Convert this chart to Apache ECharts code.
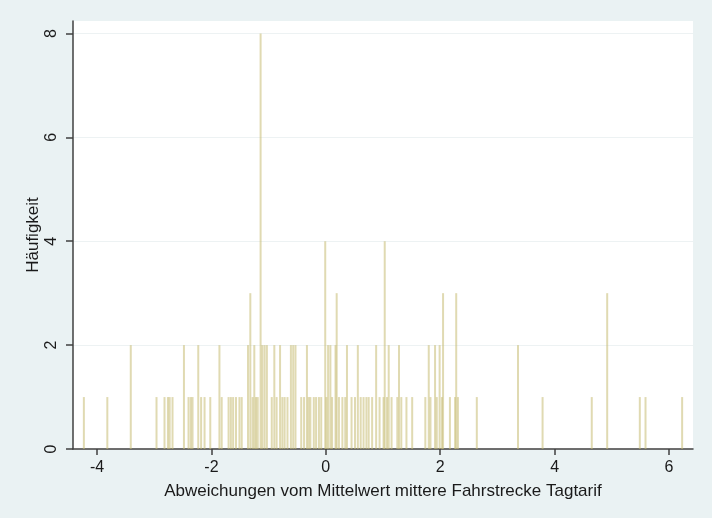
<!DOCTYPE html>
<html>
<head>
<meta charset="utf-8">
<script src="https://cdn.jsdelivr.net/npm/echarts@6/dist/echarts.min.js"></script>
<style>
  html, body { margin: 0; padding: 0; background: #eaf2f3; }
  #chart { width: 712px; height: 518px; }
</style>
</head>
<body>
<div id="chart"></div>
<script>
// Distinct deviations from the mean (x) and how often each occurs (y)
const deviations = [
  -4.23, -3.82, -3.41, -2.96, -2.82, -2.76, -2.73, -2.68,
  -2.48, -2.40, -2.36, -2.33, -2.23, -2.18, -2.12, -2.02,
  -1.86, -1.82, -1.70, -1.66, -1.62, -1.57, -1.51, -1.47,
  -1.36, -1.32, -1.28, -1.25, -1.22, -1.19, -1.14, -1.11, -1.07, -1.03,
  -0.945, -0.90, -0.86, -0.80, -0.76, -0.72, -0.67, -0.61, -0.57, -0.53,
  -0.43, -0.38, -0.33, -0.30, -0.27, -0.21, -0.17, -0.12, -0.08,
  -0.01, 0.01, 0.04, 0.08, 0.11, 0.17, 0.19, 0.23, 0.29, 0.34, 0.37, 0.45, 0.51, 0.56,
  0.61, 0.66, 0.71, 0.75, 0.81, 0.88, 0.94, 1.01, 1.03, 1.07, 1.10, 1.15, 1.25, 1.28, 1.32, 1.41, 1.51,
  1.74, 1.80, 1.83, 1.91, 1.94, 1.99, 2.03, 2.05, 2.17, 2.26, 2.28, 2.31, 2.64,
  3.36, 3.79, 4.65, 4.92, 5.49, 5.59, 6.23
];
const counts = [
  1, 1, 2, 1, 1, 1, 1, 1,
  2, 1, 1, 1, 2, 1, 1, 1,
  2, 1, 1, 1, 1, 1, 1, 1,
  2, 3, 1, 2, 1, 1, 8, 2, 2, 2,
  1, 2, 1, 2, 1, 1, 1, 2, 2, 2,
  1, 1, 2, 1, 1, 1, 1, 1, 1,
  4, 1, 2, 2, 1, 2, 3, 1, 1, 1, 2, 1, 1, 2,
  1, 1, 1, 1, 1, 2, 1, 1, 4, 1, 2, 1, 1, 2, 1, 1, 1,
  1, 2, 1, 2, 1, 2, 1, 3, 1, 1, 3, 1, 1,
  2, 1, 1, 3, 1, 1, 1
];
const xTicks = [-4, -2, 0, 2, 4, 6];
const yTicks = [0, 2, 4, 6, 8];

const spikeData = deviations.map((d, i) => [d, counts[i]]);

const font = '"Liberation Sans", Arial, sans-serif';
const chart = echarts.init(document.getElementById('chart'), null, { renderer: 'canvas' });

chart.setOption({
  backgroundColor: '#eaf2f3',
  animation: false,
  grid: { left: 73, right: 19, top: 21, bottom: 69, show: true, backgroundColor: '#ffffff', borderWidth: 0 },
  xAxis: {
    type: 'value',
    min: -4.42,
    max: 6.42,
    name: 'Abweichungen vom Mittelwert mittere Fahrstrecke Tagtarif',
    nameLocation: 'middle',
    nameGap: 34,
    nameTextStyle: { fontFamily: font, fontSize: 17, color: '#1a1a1a' },
    axisLine: { show: true, onZero: false, lineStyle: { color: '#404040', width: 1.5 } },
    axisTick: { show: true, length: 6, customValues: xTicks, lineStyle: { color: '#404040', width: 1.5 } },
    axisLabel: { customValues: xTicks, margin: 11, fontFamily: font, fontSize: 16, color: '#1a1a1a',
                 formatter: v => String(v) },
    splitLine: { show: false }
  },
  yAxis: {
    type: 'value',
    min: 0,
    max: 8.24,
    name: 'Häufigkeit',
    nameLocation: 'middle',
    nameGap: 31,
    nameRotate: 90,
    nameMoveOverlap: false,
    nameTextStyle: { fontFamily: font, fontSize: 17, color: '#1a1a1a' },
    axisLine: { show: true, onZero: false, lineStyle: { color: '#404040', width: 1.5 } },
    axisTick: { show: true, length: 7, customValues: yTicks, lineStyle: { color: '#404040', width: 1.5 } },
    axisLabel: { customValues: yTicks, rotate: 90, margin: 13, fontFamily: font, fontSize: 16, color: '#1a1a1a' },
    splitLine: { show: true, customValues: yTicks, lineStyle: { color: '#edf2f3', width: 1 } }
  },
  series: [{
    type: 'custom',
    data: spikeData,
    clip: true,
    renderItem: function (params, api) {
      const base = api.coord([api.value(0), 0]);
      const top = api.coord([api.value(0), api.value(1)]);
      return {
        type: 'line',
        shape: { x1: base[0], y1: base[1], x2: top[0], y2: top[1] },
        style: { stroke: 'rgba(198,188,115,0.55)', lineWidth: 2 }
      };
    }
  }]
});
</script>
</body>
</html>
